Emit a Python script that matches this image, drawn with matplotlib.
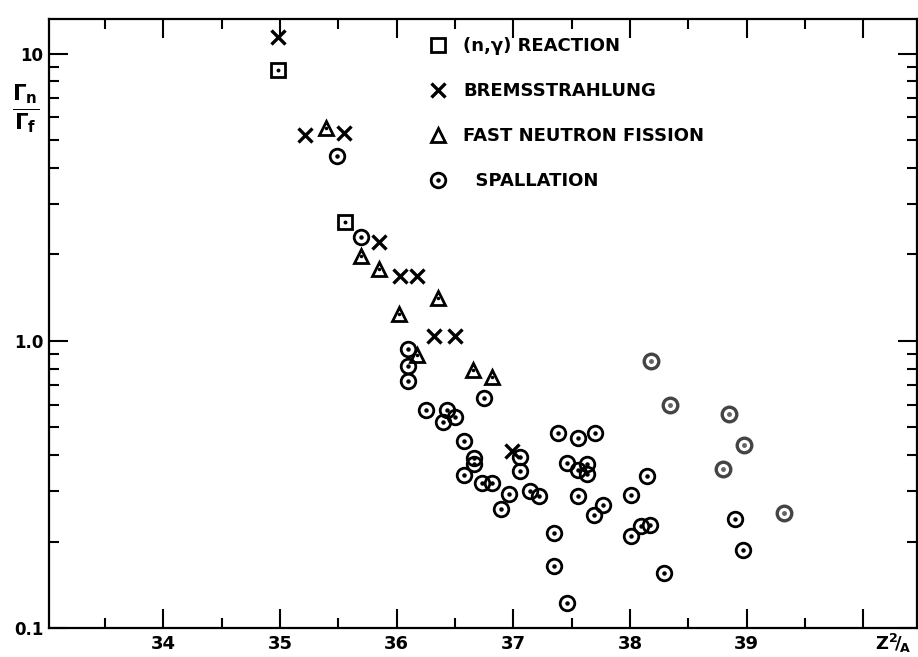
import matplotlib.pyplot as plt
from matplotlib.ticker import FixedLocator, FixedFormatter, NullFormatter

# (n,gamma) reaction
ng_x = [34.98, 35.56]
ng_y = [8.74, 2.59]

# bremsstrahlung
br_x = [34.98, 35.21, 35.55, 35.85, 36.03, 36.17, 36.32, 36.50, 36.99]
br_y = [11.4, 5.22, 5.29, 2.21, 1.68, 1.68, 1.04, 1.04, 0.413]

# fast neutron fission
fn_x = [35.39, 35.69, 35.85, 36.35, 36.02, 36.17, 36.65, 36.82]
fn_y = [5.51, 1.98, 1.78, 1.41, 1.24, 0.893, 0.792, 0.748]

# spallation
sp_x = [35.49, 35.69, 36.10, 36.10, 36.10, 36.75, 36.25, 36.43, 36.50, 36.40,
        36.58, 36.66, 36.66, 36.58, 36.73, 36.82, 36.96, 36.89, 37.06, 37.06,
        37.14, 37.22, 37.38, 37.55, 37.70, 37.46, 37.55, 37.63, 37.63, 37.55,
        37.69, 37.77, 37.35, 37.35, 37.46, 38.01, 38.15, 38.01, 38.09, 38.17,
        38.29, 38.90, 38.97]
sp_y = [4.41, 2.30, 0.934, 0.818, 0.726, 0.632, 0.574, 0.574, 0.545, 0.520,
        0.448, 0.392, 0.371, 0.340, 0.319, 0.319, 0.292, 0.259, 0.395, 0.352,
        0.299, 0.288, 0.477, 0.457, 0.477, 0.375, 0.355, 0.372, 0.345, 0.289,
        0.248, 0.269, 0.214, 0.165, 0.1226, 0.290, 0.338, 0.209, 0.226, 0.229,
        0.155, 0.240, 0.187]

# spallation points printed lighter in the original
spf_x = [38.18, 38.34, 38.85, 38.98, 38.80, 39.32]
spf_y = [0.850, 0.597, 0.556, 0.434, 0.359, 0.252]

plt.rcParams['font.family'] = ['DejaVu Sans']
plt.rcParams['mathtext.fontset'] = 'dejavusans'

fig = plt.figure(figsize=(9.18, 6.57), dpi=100)
ax = fig.add_axes([0.0534, 0.0441, 0.9455, 0.927])

ax.set_yscale('log')
ax.set_xlim(33.02, 40.46)
ax.set_ylim(0.1, 13.2)

ms = dict(ls='none', mec='k', mfc='none', mew=2.0)
h_ng, = ax.plot(ng_x, ng_y, marker='s', ms=10, **ms)
ax.plot(ng_x, ng_y, ls='none', marker='o', ms=1.8, color='k')
h_br, = ax.plot(br_x, br_y, ls='none', marker='x', ms=10, mew=2.4, color='k')
h_fn, = ax.plot(fn_x, fn_y, marker='^', ms=10, **ms)
ax.plot(fn_x, fn_y, ls='none', marker='o', ms=1.5, color='k')
h_sp, = ax.plot(sp_x, sp_y, marker='o', ms=10.5, **ms)
h_dot, = ax.plot(sp_x, sp_y, ls='none', marker='o', ms=2.2, color='k')
ax.plot(spf_x, spf_y, ls='none', marker='o', ms=10.5, mfc='none', mec='#444444', mew=2.4)
ax.plot(spf_x, spf_y, ls='none', marker='o', ms=2.5, color='#666666')

leg = ax.legend([h_ng, h_br, h_fn, (h_sp, h_dot)],
                ['(n,γ) REACTION', 'BREMSSTRAHLUNG', 'FAST NEUTRON FISSION', '  SPALLATION'],
                loc='upper left', bbox_to_anchor=(0.417, 1.0), frameon=False,
                prop=dict(size=13, weight='bold'), labelspacing=1.5,
                handlelength=1.0, handletextpad=0.9, borderaxespad=0.6)

for s in ax.spines.values():
    s.set_linewidth(1.6)

ax.xaxis.set_major_locator(FixedLocator([34, 35, 36, 37, 38, 39, 40]))
ax.xaxis.set_minor_locator(FixedLocator([33.5, 34.5, 35.5, 36.5, 37.5, 38.5, 39.5]))
ax.xaxis.set_major_formatter(FixedFormatter(['34', '35', '36', '37', '38', '39', '']))
ax.yaxis.set_major_locator(FixedLocator([0.1, 1.0, 10]))
ax.yaxis.set_major_formatter(FixedFormatter(['0.1', '1.0', '10']))
ax.yaxis.set_minor_formatter(NullFormatter())

ax.tick_params(which='both', direction='in', top=True, right=True, width=1.5)
ax.tick_params(which='major', length=14)
ax.tick_params(which='minor', length=7)
ax.tick_params(axis='x', which='major', pad=5, labelsize=13)
ax.tick_params(axis='y', which='major', pad=4, labelsize=12)
for lab in ax.get_xticklabels() + ax.get_yticklabels():
    lab.set_fontweight('bold')

ax.annotate(r'$\mathbf{Z^2\!/_{\!A}}$', xy=(0.972, 0), xycoords='axes fraction',
            xytext=(0, -3), textcoords='offset points', ha='center', va='top', fontsize=13)
fig.text(0.028, 0.835, r'$\frac{\mathbf{\Gamma_n}}{\mathbf{\Gamma_f}}$', ha='center', va='center', fontsize=22)

fig.savefig('out.png', dpi=100)
